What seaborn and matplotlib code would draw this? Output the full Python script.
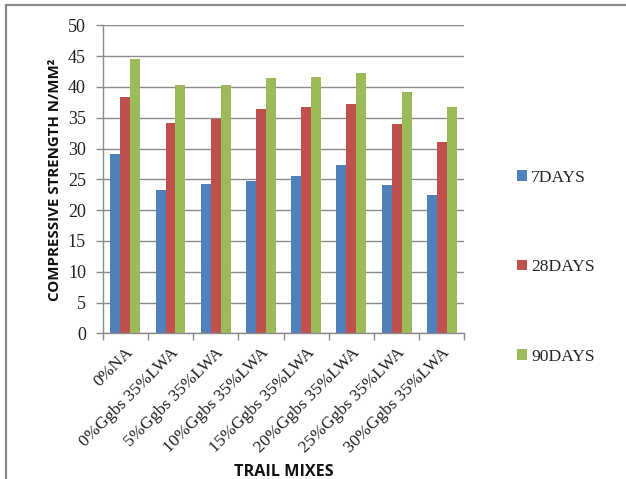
import matplotlib
matplotlib.use("Agg")
import matplotlib.pyplot as plt
from matplotlib.lines import Line2D
from matplotlib.patches import Patch
import numpy as np
import pandas as pd
import seaborn as sns

# Trail mixes and compressive strength (N/mm²) at each curing age
mixes = ["0%NA", "0%Ggbs 35%LWA", "5%Ggbs 35%LWA", "10%Ggbs 35%LWA",
         "15%Ggbs 35%LWA", "20%Ggbs 35%LWA", "25%Ggbs 35%LWA", "30%Ggbs 35%LWA"]
days_7 = [29.2, 23.3, 24.3, 24.7, 25.5, 27.4, 24.1, 22.4]
days_28 = [38.4, 34.2, 34.8, 36.5, 36.8, 37.3, 34.0, 31.1]
days_90 = [44.5, 40.3, 40.3, 41.5, 41.6, 42.2, 39.2, 36.8]
ages = ["7DAYS", "28DAYS", "90DAYS"]
colors = ["#4F81BD", "#C0504D", "#9BBB59"]

df = pd.DataFrame({
    "mix": mixes * 3,
    "age": [a for a in ages for _ in mixes],
    "strength": days_7 + days_28 + days_90,
})

sns.set_theme(style="white")
plt.rcParams["font.family"] = ["Liberation Serif", "DejaVu Serif"]

fig = plt.figure(figsize=(6.26, 4.79), dpi=100)
ax = fig.add_axes([0.164, 0.304, 0.578, 0.643])

sns.barplot(data=df, x="mix", y="strength", hue="age", palette=colors,
            width=0.66, gap=0, saturation=1, errorbar=None, ax=ax,
            edgecolor="none", legend=False)

grid_c = "#8c8c8c"
ax.set_ylim(0, 50)
ax.set_yticks(np.arange(0, 51, 5))
ax.set_xlim(-0.5, len(mixes) - 0.5)
ax.yaxis.grid(True, color=grid_c, linewidth=1)
ax.set_axisbelow(True)
for s in ["top", "right"]:
    ax.spines[s].set_visible(False)
for s in ["left", "bottom"]:
    ax.spines[s].set_color(grid_c)
    ax.spines[s].set_linewidth(1)

ax.tick_params(axis="y", left=True, length=5, width=1, color=grid_c,
               labelsize=13, pad=7, labelcolor="#222222")
# category boundaries carry the tick marks on the x axis
ax.set_xticks(np.arange(-0.5, len(mixes), 1), minor=True)
ax.tick_params(axis="x", which="minor", bottom=True, length=5, width=1, color=grid_c)
ax.tick_params(axis="x", which="major", bottom=False, length=0, pad=8)
ax.set_xticks(range(len(mixes)))
ax.set_xticklabels(mixes, rotation=45, ha="right", va="top",
                   rotation_mode="anchor", fontsize=12.5, color="#222222")

label_font = dict(family=["Open Sans", "DejaVu Sans"], weight="bold",
                  color="#111111")
ax.set_ylabel("COMPRESSIVE STRENGTH N/MM²", labelpad=4, fontsize=10.8, **label_font)
ax.set_xlabel("TRAIL MIXES", labelpad=6, fontsize=11.6, **label_font)

handles = [Patch(facecolor=c, edgecolor="none") for c in colors]
fig.legend(handles, ages, loc="upper left", bbox_to_anchor=(0.812, 0.664),
           frameon=False, fontsize=12.6, handlelength=0.55, handleheight=0.55,
           handletextpad=0.25, labelspacing=4.2, borderpad=0)

# thin grey frame along the top and left edges
fig.add_artist(Line2D([0.0096, 1.0], [0.9896, 0.9896], transform=fig.transFigure,
                      color="#8a8a8a", linewidth=1.6))
fig.add_artist(Line2D([0.0096, 0.0096], [0.0, 0.9896], transform=fig.transFigure,
                      color="#8a8a8a", linewidth=1.6))

fig.savefig("out.png", dpi=100, facecolor="white")
